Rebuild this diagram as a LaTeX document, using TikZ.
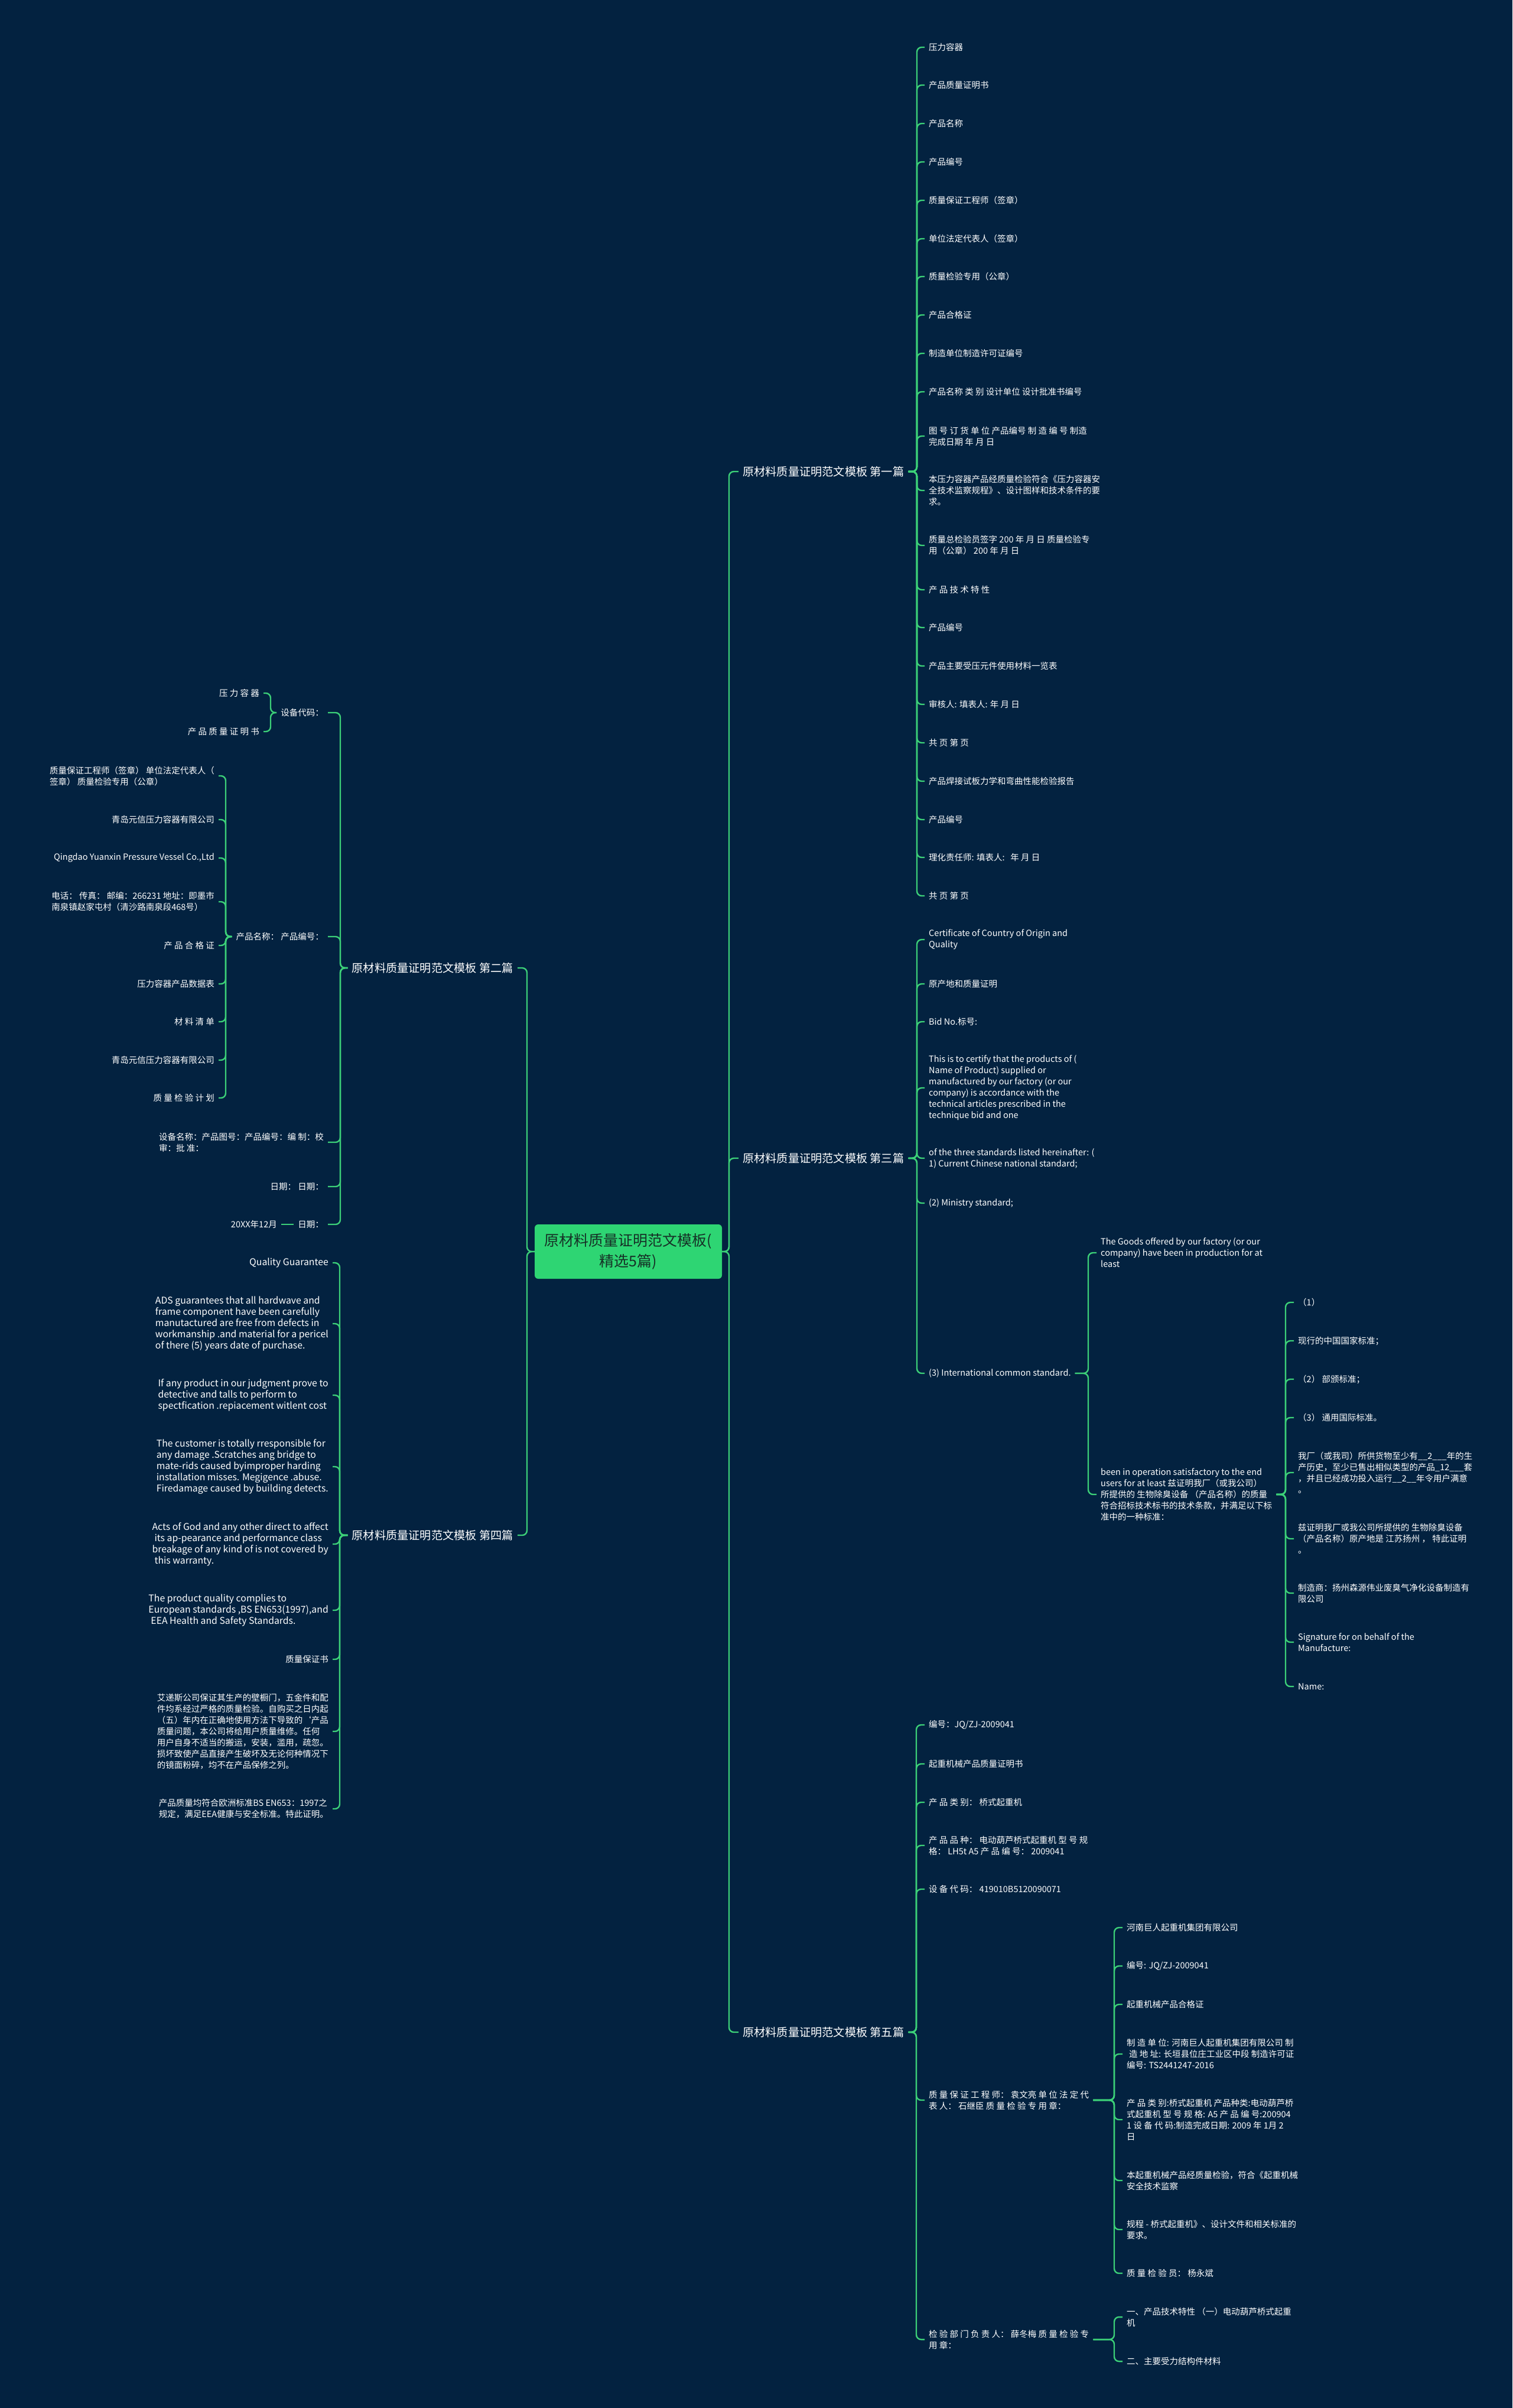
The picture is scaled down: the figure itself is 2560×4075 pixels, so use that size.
\documentclass[tikz,border=0pt]{standalone}
\usepackage{fontspec}
\setmainfont{Noto Sans CJK SC}
\definecolor{bg}{RGB}{3,34,64}
\definecolor{lineg}{RGB}{60,208,120}
\definecolor{rootg}{RGB}{46,213,115}
\definecolor{roott}{RGB}{22,48,38}
\tikzset{
  conn/.style={draw=lineg,line width=2.4pt,rounded corners=8pt},
  rtxt/.style={anchor=west,text=white,align=left,inner xsep=7pt,inner ysep=2pt,font=\fontsize{14.5}{19}\selectfont},
  ltxt/.style={rtxt,anchor=east},
  entxt/.style={ltxt,font=\fontsize{15.8}{19}\selectfont},
  mtxt/.style={text=white,inner xsep=7pt,inner ysep=2pt,font=\fontsize{19.2}{26}\selectfont},
  rootbox/.style={fill=rootg,text=roott,rounded corners=6pt,align=center,minimum width=317pt,minimum height=92pt,inner sep=0pt,font=\fontsize{25}{35}\selectfont}
}
\begin{document}
\begin{tikzpicture}[x=1pt,y=-1pt]
\fill[bg] (0,0) rectangle (2560,4075);
\useasboundingbox (0,0) rectangle (2560,4075);

% spine coordinates
\coordinate (sR) at (1234,0);
\coordinate (sL) at (892,0);
\coordinate (s1) at (1552,0);
\coordinate (s3) at (1552,0);
\coordinate (s3b) at (1842,0);
\coordinate (s3c) at (2176,0);
\coordinate (s5) at (1551,0);
\coordinate (s5b) at (1886,0);
\coordinate (s2) at (576,0);
\coordinate (s2a) at (458,0);
\coordinate (s2b) at (382,0);
\coordinate (s4) at (575,0);

% root
\node[rootbox] (root) at (1063.5,2118) {原材料质量证明范文模板(\\精选5篇)};

% main branches
\node[mtxt,anchor=west] (m1) at (1250,798) {原材料质量证明范文模板 第一篇};
\node[mtxt,anchor=west] (m3) at (1250,1960) {原材料质量证明范文模板 第三篇};
\node[mtxt,anchor=west] (m5) at (1250,3439) {原材料质量证明范文模板 第五篇};
\node[mtxt,anchor=east] (m2) at (876,1638) {原材料质量证明范文模板 第二篇};
\node[mtxt,anchor=east] (m4) at (876,2598) {原材料质量证明范文模板 第四篇};

% section 1
\node[rtxt] (a1) at (1565,80) {压力容器};
\node[rtxt] (a2) at (1565,144) {产品质量证明书};
\node[rtxt] (a3) at (1565,209) {产品名称};
\node[rtxt] (a4) at (1565,274) {产品编号};
\node[rtxt] (a5) at (1565,339) {质量保证工程师（签章）};
\node[rtxt] (a6) at (1565,404) {单位法定代表人（签章）};
\node[rtxt] (a7) at (1565,468) {质量检验专用（公章）};
\node[rtxt] (a8) at (1565,533) {产品合格证};
\node[rtxt] (a9) at (1565,598) {制造单位制造许可证编号};
\node[rtxt] (a10) at (1565,663) {产品名称 类 别 设计单位 设计批准书编号};
\node[rtxt] (a11) at (1565,738) {图 号 订 货 单 位 产品编号 制 造 编 号 制造\\完成日期 年 月 日};
\node[rtxt] (a12) at (1565,830) {本压力容器产品经质量检验符合《压力容器安\\全技术监察规程》、设计图样和技术条件的要\\求。};
\node[rtxt] (a13) at (1565,923) {质量总检验员签字 200 年 月 日 质量检验专\\用（公章） 200 年 月 日};
\node[rtxt] (a14) at (1565,998) {产 品 技 术 特 性};
\node[rtxt] (a15) at (1565,1062) {产品编号};
\node[rtxt] (a16) at (1565,1127) {产品主要受压元件使用材料一览表};
\node[rtxt] (a17) at (1565,1192) {审核人: 填表人: 年 月 日};
\node[rtxt] (a18) at (1565,1257) {共 页 第 页};
\node[rtxt] (a19) at (1565,1322) {产品焊接试板力学和弯曲性能检验报告};
\node[rtxt] (a20) at (1565,1387) {产品编号};
\node[rtxt] (a21) at (1565,1451) {理化责任师: 填表人:\ \ \ 年 月 日};
\node[rtxt] (a22) at (1565,1516) {共 页 第 页};

% section 3
\node[rtxt] (b1) at (1565,1590) {Certificate of Country of Origin and\\Quality};
\node[rtxt] (b2) at (1565,1665) {原产地和质量证明};
\node[rtxt] (b3) at (1565,1729) {Bid No.标号:};
\node[rtxt] (b4) at (1565,1841) {This is to certify that the products of (\\Name of Product) supplied or\\manufactured by our factory (or our\\company) is accordance with the\\technical articles prescribed in the\\technique bid and one};
\node[rtxt] (b5) at (1565,1960) {of the three standards listed hereinafter: (\\1) Current Chinese national standard;};
\node[rtxt] (b6) at (1565,2036) {(2) Ministry standard;};
\node[rtxt] (b7) at (1565,2324) {(3) International common standard.};
\node[rtxt] (c1) at (1856,2120) {The Goods offered by our factory (or our\\company) have been in production for at\\least};
\node[rtxt] (c2) at (1856,2529) {been in operation satisfactory to the end\\users for at least 兹证明我厂（或我公司）\\所提供的 生物除臭设备 （产品名称）的质量\\符合招标技术标书的技术条款，并满足以下标\\准中的一种标准：};
\node[rtxt] (d1) at (2190,2204) {（1）};
\node[rtxt] (d2) at (2190,2269) {现行的中国国家标准；};
\node[rtxt] (d3) at (2190,2334) {（2） 部颁标准；};
\node[rtxt] (d4) at (2190,2399) {（3） 通用国际标准。};
\node[rtxt] (d5) at (2190,2492) {我厂（或我司）所供货物至少有\_\_2\_\_\_年的生\\产历史，至少已售出相似类型的产品\_12\_\_\_套\\，并且已经成功投入运行\_\_2\_\_年令用户满意\\。};
\node[rtxt] (d6) at (2190,2604) {兹证明我厂或我公司所提供的 生物除臭设备\\（产品名称）原产地是 江苏扬州 ， 特此证明\\。};
\node[rtxt] (d7) at (2190,2696) {制造商：扬州森源伟业废臭气净化设备制造有\\限公司};
\node[rtxt] (d8) at (2190,2779) {Signature for on behalf of the\\Manufacture:};
\node[rtxt] (d9) at (2190,2854) {Name:};

% section 5
\node[rtxt] (e1) at (1565,2919) {编号：JQ/ZJ-2009041};
\node[rtxt] (e2) at (1565,2985) {起重机械产品质量证明书};
\node[rtxt] (e3) at (1565,3050) {产 品 类 别： 桥式起重机};
\node[rtxt] (e4) at (1565,3123) {产 品 品 种： 电动葫芦桥式起重机 型 号 规\\格： LH5t A5 产 品 编 号： 2009041};
\node[rtxt] (e5) at (1565,3197) {设 备 代 码： 419010B5120090071};
\node[rtxt] (e6) at (1565,3554) {质 量 保 证 工 程 师： 袁文亮 单 位 法 定 代\\表 人： 石继臣 质 量 检 验 专 用 章：};
\node[rtxt] (e7) at (1565,3959) {检 验 部 门 负 责 人： 薛冬梅 质 量 检 验 专\\用 章：};
\node[rtxt] (f1) at (1900,3262) {河南巨人起重机集团有限公司};
\node[rtxt] (f2) at (1900,3327) {编号: JQ/ZJ-2009041};
\node[rtxt] (f3) at (1900,3392) {起重机械产品合格证};
\node[rtxt] (f4) at (1900,3476) {制 造 单 位: 河南巨人起重机集团有限公司 制\\\hspace{4pt}造 地 址: 长垣县位庄工业区中段 制造许可证\\编号: TS2441247-2016};
\node[rtxt] (f5) at (1900,3587) {产 品 类 别:桥式起重机 产品种类:电动葫芦桥\\式起重机 型 号 规 格: A5 产 品 编 号:200904\\1 设 备 代 码:制造完成日期: 2009 年 1月 2\\日};
\node[rtxt] (f6) at (1900,3690) {本起重机械产品经质量检验，符合《起重机械\\安全技术监察};
\node[rtxt] (f7) at (1900,3773) {规程 - 桥式起重机》、设计文件和相关标准的\\要求。};
\node[rtxt] (f8) at (1900,3847) {质 量 检 验 员： 杨永斌};
\node[rtxt] (g1) at (1900,3921) {一、产品技术特性 （一）电动葫芦桥式起重\\机};
\node[rtxt] (g2) at (1900,3996) {二、主要受力结构件材料};

% section 2
\node[ltxt] (h1) at (555,1206) {设备代码：};
\node[ltxt] (h2) at (555,1585) {产品名称： 产品编号：};
\node[ltxt] (h3) at (555,1933) {设备名称：产品图号：产品编号：编 制：校\\审：批 准：};
\node[ltxt] (h4) at (555,2008) {日期： 日期：};
\node[ltxt] (h5) at (555,2072) {日期：};
\node[ltxt] (x20) at (476,2072) {20XX年12月};
\node[ltxt] (i1) at (446,1173) {压 力 容 器};
\node[ltxt] (i2) at (446,1238) {产 品 质 量 证 明 书};
\node[ltxt] (j1) at (370,1313) {质量保证工程师（签章） 单位法定代表人（\\签章） 质量检验专用（公章）};
\node[ltxt] (j2) at (370,1387) {青岛元信压力容器有限公司};
\node[ltxt] (j3) at (370,1452) {Qingdao Yuanxin Pressure Vessel Co.,Ltd};
\node[ltxt] (j4) at (370,1526) {电话： 传真： 邮编：266231 地址：即墨市\\南泉镇赵家屯村（清沙路南泉段468号）};
\node[ltxt] (j5) at (370,1600) {产 品 合 格 证};
\node[ltxt] (j6) at (370,1665) {压力容器产品数据表};
\node[ltxt] (j7) at (370,1729) {材 料 清 单};
\node[ltxt] (j8) at (370,1794) {青岛元信压力容器有限公司};
\node[ltxt] (j9) at (370,1858) {质 量 检 验 计 划};

% section 4
\node[entxt] (k1) at (563,2137) {Quality Guarantee};
\node[entxt] (k2) at (563,2240) {ADS guarantees that all hardwave and\\frame component have been carefully\\manutactured are free from defects in\\workmanship .and material for a pericel\\of there (5) years date of purchase.};
\node[entxt] (k3) at (563,2361) {If any product in our judgment prove to\\detective and talls to perform to\\spectfication .repiacement witlent cost};
\node[entxt] (k4) at (563,2482) {The customer is totally rresponsible for\\any damage .Scratches ang bridge to\\mate-rids caused byimproper harding\\installation misses. Megigence .abuse.\\Firedamage caused by building detects.};
\node[entxt] (k5) at (563,2613) {Acts of God and any other direct to affect\\\hspace{4pt}its ap-pearance and performance class\\breakage of any kind of is not covered by\\\hspace{4pt}this warranty.};
\node[entxt] (k6) at (563,2725) {The product quality complies to\\European standards ,BS EN653(1997),and\\\hspace{4pt}EEA Health and Safety Standards.};
\node[ltxt] (k7) at (563,2808) {质量保证书};
\node[ltxt] (k8) at (563,2930) {艾递斯公司保证其生产的壁橱门，五金件和配\\件均系经过严格的质量检验。自购买之日内起\\（五）年内在正确地使用方法下导致的`产品\\质量问题，本公司将给用户质量维修。任何\\用户自身不适当的搬运，安装，滥用，疏忽。\\损坏致使产品直接产生破坏及无论何种情况下\\的镜面粉碎，均不在产品保修之列。};
\node[ltxt] (k9) at (563,3061) {产品质量均符合欧洲标准BS EN653：1997之\\规定，满足EEA健康与安全标准。特此证明。};

% connectors: root
\foreach \m in {m1,m3,m5} {\draw[conn] (root.east) -- (root.east -| sR) |- (\m.west);}
\foreach \m in {m2,m4} {\draw[conn] (root.west) -- (root.west -| sL) |- (\m.east);}
% section 1
\foreach \i in {1,...,22} {\draw[conn] (m1.east) -- (m1.east -| s1) |- (a\i.west);}
% section 3
\foreach \i in {1,...,7} {\draw[conn] (m3.east) -- (m3.east -| s3) |- (b\i.west);}
\foreach \i in {1,2} {\draw[conn] (b7.east) -- (b7.east -| s3b) |- (c\i.west);}
\foreach \i in {1,...,9} {\draw[conn] (c2.east) -- (c2.east -| s3c) |- (d\i.west);}
% section 5
\foreach \i in {1,...,7} {\draw[conn] (m5.east) -- (m5.east -| s5) |- (e\i.west);}
\foreach \i in {1,...,8} {\draw[conn] (e6.east) -- (e6.east -| s5b) |- (f\i.west);}
\foreach \i in {1,2} {\draw[conn] (e7.east) -- (e7.east -| s5b) |- (g\i.west);}
% section 2
\foreach \i in {1,...,5} {\draw[conn] (m2.west) -- (m2.west -| s2) |- (h\i.east);}
\foreach \i in {1,2} {\draw[conn] (h1.west) -- (h1.west -| s2a) |- (i\i.east);}
\foreach \i in {1,...,9} {\draw[conn] (h2.west) -- (h2.west -| s2b) |- (j\i.east);}
\draw[conn] (h5.west) -- (x20.east);
% section 4
\foreach \i in {1,...,9} {\draw[conn] (m4.west) -- (m4.west -| s4) |- (k\i.east);}
\end{tikzpicture}
\end{document}
